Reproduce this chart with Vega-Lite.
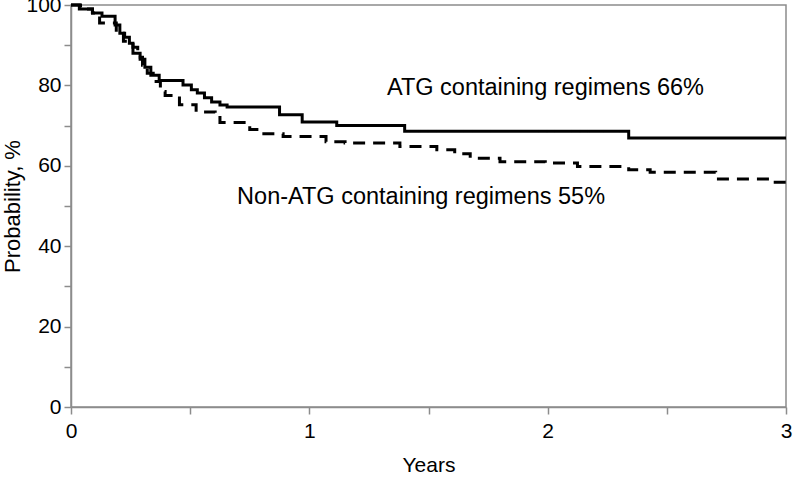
{
  "$schema": "https://vega.github.io/schema/vega-lite/v6.json",
  "width": 715,
  "height": 402,
  "autosize": "none",
  "padding": {"left": 71, "top": 5, "right": 11, "bottom": 76},
  "background": "white",
  "config": {
    "view": {"stroke": "#8c8c8c", "strokeWidth": 1.5},
    "font": "Liberation Sans"
  },
  "layer": [
    {
      "data": {
        "values": [
          {"g": "ATG", "t": 0, "v": 100},
          {"g": "ATG", "t": 0.035, "v": 99},
          {"g": "ATG", "t": 0.09, "v": 98},
          {"g": "ATG", "t": 0.13, "v": 97.2},
          {"g": "ATG", "t": 0.185, "v": 95},
          {"g": "ATG", "t": 0.205, "v": 93},
          {"g": "ATG", "t": 0.225, "v": 92},
          {"g": "ATG", "t": 0.245, "v": 90.5},
          {"g": "ATG", "t": 0.26, "v": 88},
          {"g": "ATG", "t": 0.29, "v": 86.5},
          {"g": "ATG", "t": 0.31, "v": 84.5},
          {"g": "ATG", "t": 0.335, "v": 82.5},
          {"g": "ATG", "t": 0.37, "v": 81.2},
          {"g": "ATG", "t": 0.47, "v": 80.1},
          {"g": "ATG", "t": 0.505, "v": 78.9},
          {"g": "ATG", "t": 0.53, "v": 78.1},
          {"g": "ATG", "t": 0.56, "v": 76.9},
          {"g": "ATG", "t": 0.59, "v": 75.9},
          {"g": "ATG", "t": 0.625, "v": 75.1},
          {"g": "ATG", "t": 0.655, "v": 74.6},
          {"g": "ATG", "t": 0.875, "v": 72.7},
          {"g": "ATG", "t": 0.97, "v": 70.9},
          {"g": "ATG", "t": 1.115, "v": 70.0},
          {"g": "ATG", "t": 1.4, "v": 68.6},
          {"g": "ATG", "t": 2.34, "v": 66.9},
          {"g": "ATG", "t": 3.0, "v": 66.9},
          {"g": "Non-ATG", "t": 0, "v": 100},
          {"g": "Non-ATG", "t": 0.04, "v": 99},
          {"g": "Non-ATG", "t": 0.09, "v": 98},
          {"g": "Non-ATG", "t": 0.12, "v": 95.5},
          {"g": "Non-ATG", "t": 0.19, "v": 93},
          {"g": "Non-ATG", "t": 0.22, "v": 91},
          {"g": "Non-ATG", "t": 0.26, "v": 89.5},
          {"g": "Non-ATG", "t": 0.28, "v": 87},
          {"g": "Non-ATG", "t": 0.3, "v": 85},
          {"g": "Non-ATG", "t": 0.32, "v": 83},
          {"g": "Non-ATG", "t": 0.345, "v": 81},
          {"g": "Non-ATG", "t": 0.375, "v": 78.5},
          {"g": "Non-ATG", "t": 0.395, "v": 77.5},
          {"g": "Non-ATG", "t": 0.455, "v": 75.2},
          {"g": "Non-ATG", "t": 0.525, "v": 73.4},
          {"g": "Non-ATG", "t": 0.605, "v": 72},
          {"g": "Non-ATG", "t": 0.625, "v": 70.8},
          {"g": "Non-ATG", "t": 0.75, "v": 69},
          {"g": "Non-ATG", "t": 0.8, "v": 68},
          {"g": "Non-ATG", "t": 0.89, "v": 67.3},
          {"g": "Non-ATG", "t": 1.07, "v": 66.0},
          {"g": "Non-ATG", "t": 1.15, "v": 65.7},
          {"g": "Non-ATG", "t": 1.38, "v": 64.8},
          {"g": "Non-ATG", "t": 1.535, "v": 64.0},
          {"g": "Non-ATG", "t": 1.61, "v": 63.0},
          {"g": "Non-ATG", "t": 1.675, "v": 61.9},
          {"g": "Non-ATG", "t": 1.8, "v": 61.0},
          {"g": "Non-ATG", "t": 1.99, "v": 60.7},
          {"g": "Non-ATG", "t": 2.125, "v": 59.8},
          {"g": "Non-ATG", "t": 2.34, "v": 59.0},
          {"g": "Non-ATG", "t": 2.43, "v": 58.4},
          {"g": "Non-ATG", "t": 2.705, "v": 56.7},
          {"g": "Non-ATG", "t": 2.935, "v": 55.9},
          {"g": "Non-ATG", "t": 3.0, "v": 55.9}
        ]
      },
      "mark": {"type": "line", "interpolate": "step-after", "color": "black", "strokeWidth": 3},
      "encoding": {
        "x": {
          "field": "t", "type": "quantitative",
          "scale": {"domain": [0, 3], "nice": false, "zero": false},
          "axis": {
            "values": [0, 0.5, 1, 1.5, 2, 2.5, 3],
            "labelExpr": "datum.value % 1 === 0 ? format(datum.value, 'd') : ''",
            "grid": false, "labelFlush": false, "labelOverlap": false,
            "domainColor": "#8c8c8c", "domainWidth": 1.5,
            "tickColor": "#8c8c8c", "tickWidth": 1.5, "tickSize": 7,
            "labelFontSize": 21, "labelColor": "#000", "labelPadding": 6,
            "title": "Years", "titleFontSize": 21, "titleFontWeight": "normal",
            "titleColor": "#000", "titlePadding": 13
          }
        },
        "y": {
          "field": "v", "type": "quantitative",
          "scale": {"domain": [0, 100], "nice": false},
          "axis": {
            "values": [0, 10, 20, 30, 40, 50, 60, 70, 80, 90, 100],
            "labelExpr": "datum.value % 20 === 0 ? format(datum.value, 'd') : ''",
            "grid": false, "labelFlush": false, "labelOverlap": false,
            "domainColor": "#8c8c8c", "domainWidth": 1.5,
            "tickColor": "#8c8c8c", "tickWidth": 1.5, "tickSize": 7,
            "labelFontSize": 21, "labelColor": "#000", "labelPadding": 3,
            "title": "Probability, %", "titleFontSize": 22, "titleFontWeight": "normal",
            "titleColor": "#000", "titlePadding": 1
          }
        },
        "strokeDash": {
          "field": "g", "type": "nominal",
          "scale": {"domain": ["ATG", "Non-ATG"], "range": [[1, 0], [12, 8]]},
          "legend": null
        }
      }
    },
    {
      "data": {
        "values": [
          {"t": 1.326, "v": 79.4, "label": "ATG containing regimens 66%"},
          {"t": 0.697, "v": 52.3, "label": "Non-ATG containing regimens 55%"}
        ]
      },
      "mark": {"type": "text", "align": "left", "baseline": "middle", "fontSize": 23.5, "color": "#000"},
      "encoding": {
        "x": {"field": "t", "type": "quantitative"},
        "y": {"field": "v", "type": "quantitative"},
        "text": {"field": "label"}
      }
    }
  ]
}
